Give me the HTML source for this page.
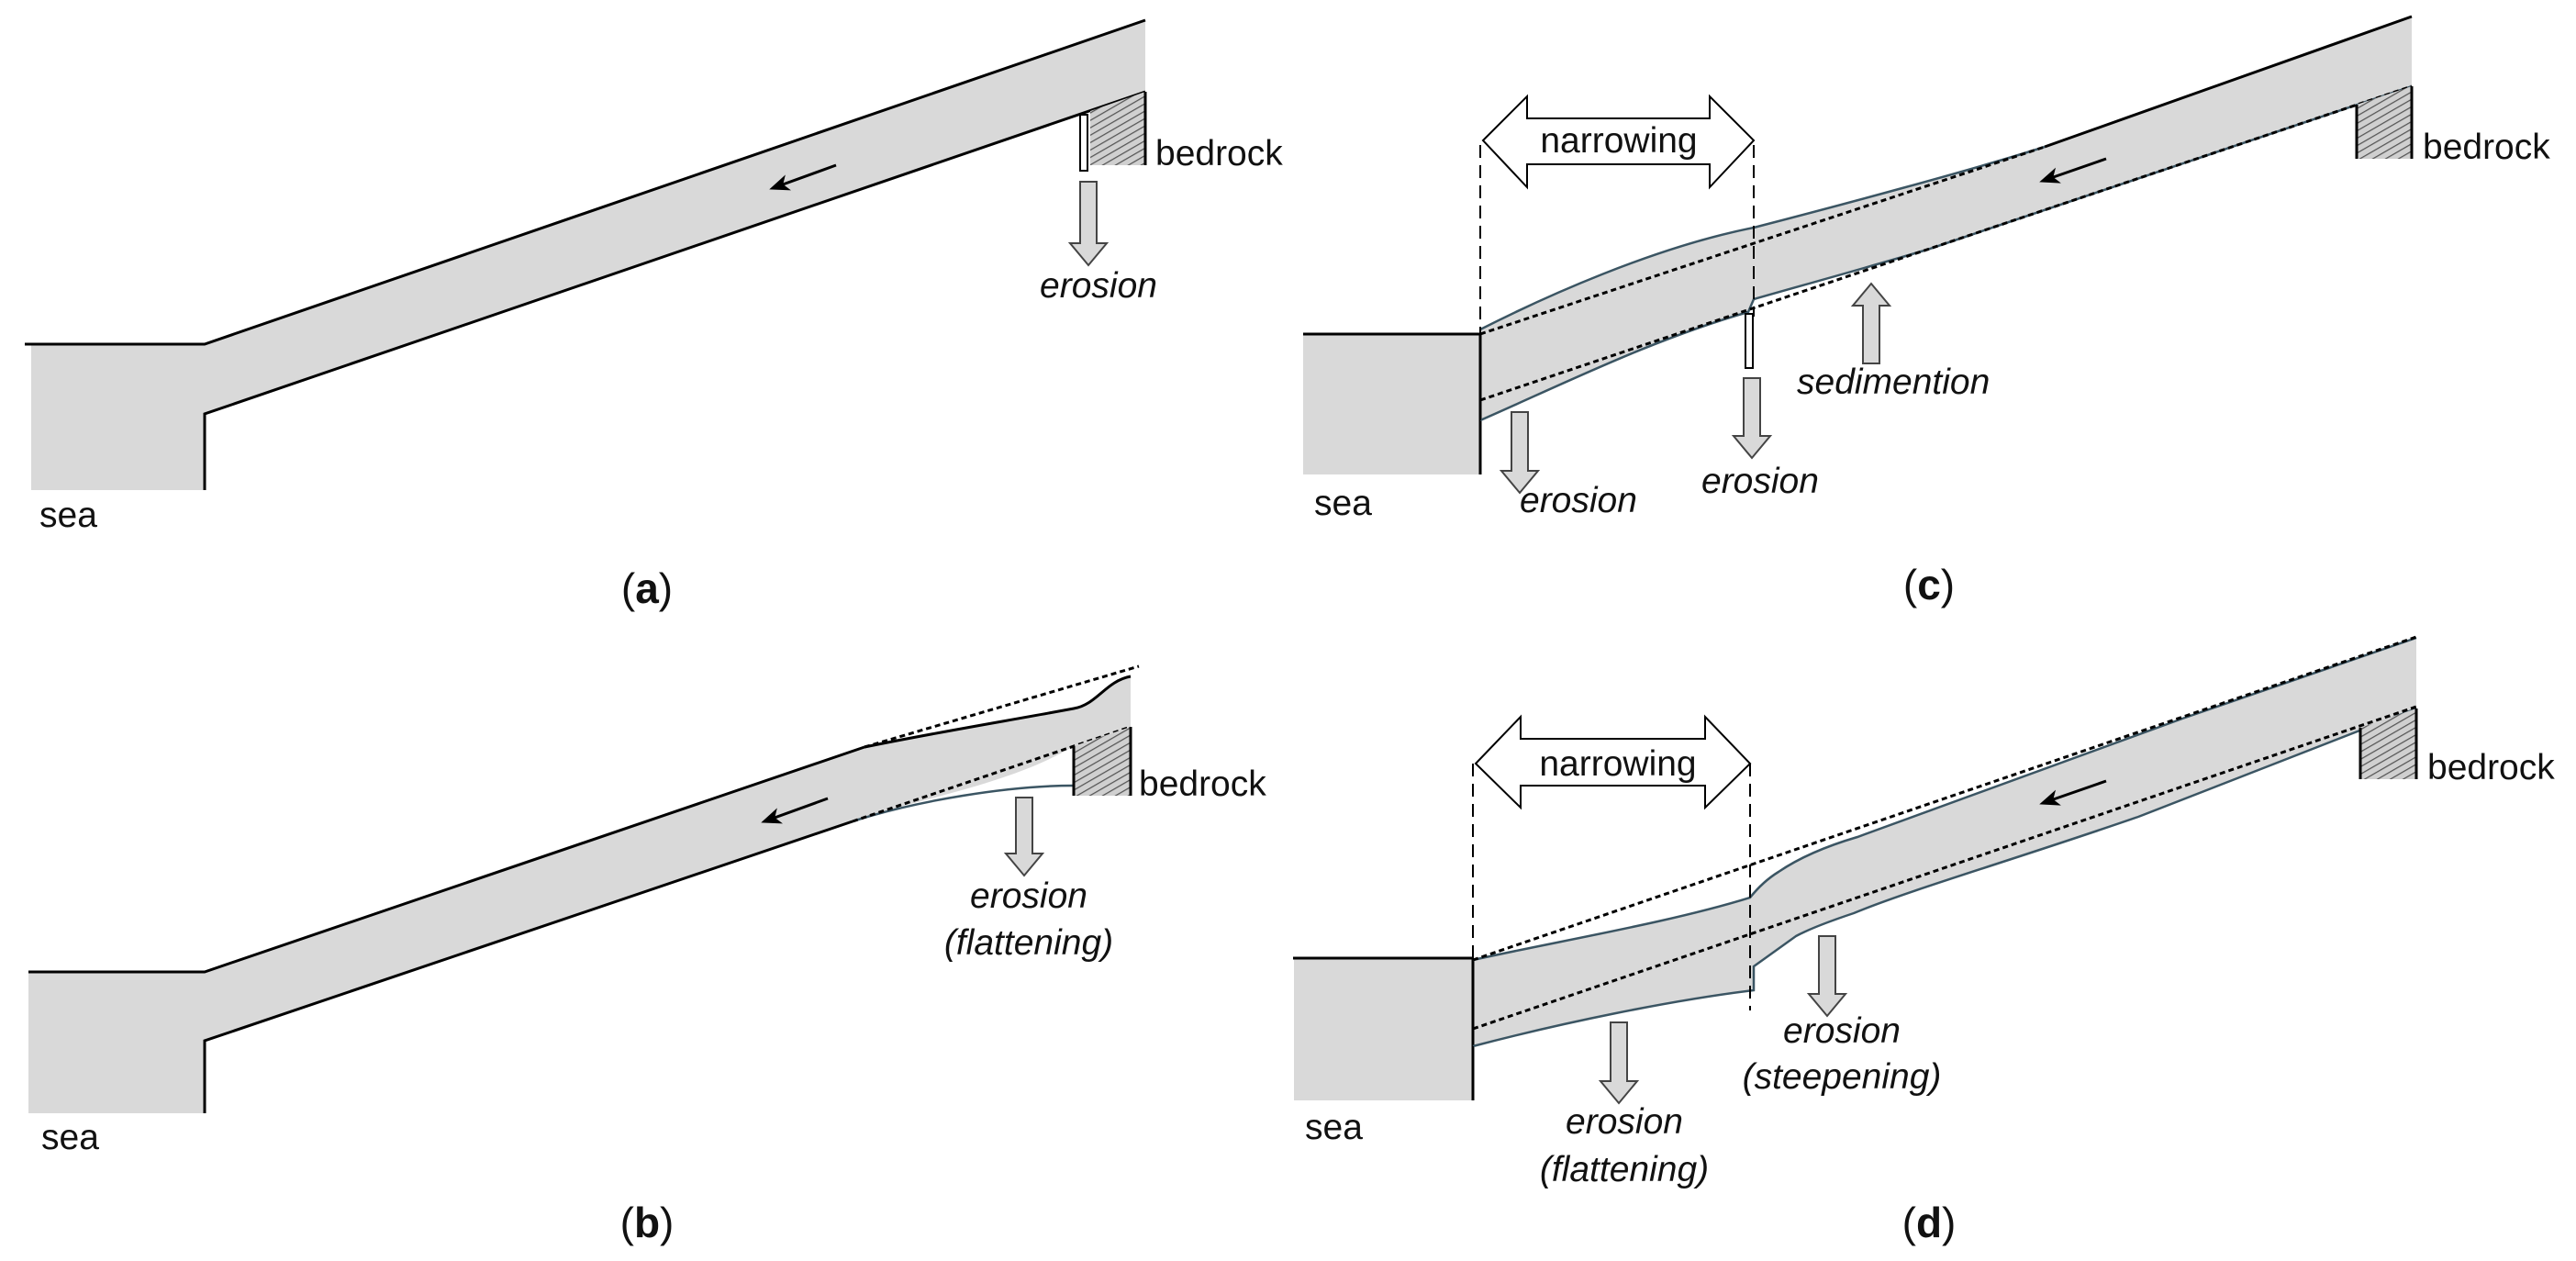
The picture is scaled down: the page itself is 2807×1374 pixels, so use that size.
<!DOCTYPE html>
<html><head><meta charset="utf-8"><style>
html,body{margin:0;padding:0;background:#fff;}
svg{display:block;}
text{font-family:"Liberation Sans",sans-serif;font-size:39px;fill:#111;}
.it{font-style:italic;}
.lb{font-size:46px;}
</style></head><body>
<svg width="2807" height="1374" viewBox="0 0 2807 1374" xmlns="http://www.w3.org/2000/svg">
<defs>
<pattern id="h" width="7" height="7" patternUnits="userSpaceOnUse" patternTransform="rotate(60)">
<rect width="7" height="7" fill="#d0d0d0"/><line x1="0" y1="0" x2="0" y2="7" stroke="#555" stroke-width="2.5"/>
</pattern>
<marker id="ah" markerWidth="22" markerHeight="18" refX="18" refY="9" orient="auto" markerUnits="userSpaceOnUse" viewBox="0 0 22 18">
<path d="M0,0 L22,9 L0,18 L6,9 Z" fill="#000"/>
</marker>
</defs>
<g stroke-linejoin="miter">

<!-- PANEL A -->
<polygon points="34,375 223,375 1248,22 1248,100 223,451 223,534 34,534" fill="#d9d9d9"/>
<polyline points="27,375 223,375 1248,22" fill="none" stroke="#000" stroke-width="3"/>
<polyline points="223,534 223,451 1248,100" fill="none" stroke="#000" stroke-width="3"/>
<polygon points="1188,121 1248,100 1248,180 1188,180" fill="url(#h)"/>
<line x1="1248" y1="100" x2="1248" y2="180" stroke="#000" stroke-width="3"/>
<rect x="1177" y="125" width="8" height="61" fill="#fff" stroke="#000" stroke-width="2"/>
<path d="M1177,198 L1195,198 L1195,265 L1206,265 L1186,289 L1166,265 L1177,265 Z" fill="#d9d9d9" stroke="#444" stroke-width="2"/>
<line x1="911" y1="180" x2="842" y2="205" stroke="#000" stroke-width="3" marker-end="url(#ah)"/>
<text x="1197" y="324" class="it" text-anchor="middle">erosion</text>
<text x="1259" y="180">bedrock</text>
<text x="43" y="574">sea</text>
<text x="705" y="657" class="lb" text-anchor="middle">(<tspan font-weight="bold">a</tspan>)</text>

<!-- PANEL B -->
<path d="M31,1059 L223,1059 L942,814 C1020,798 1100,785 1170,772 C1195,768 1205,742 1232,737 L1232,792 L1170,813 C1100,855 1000,870 929,895 L223,1134 L223,1213 L31,1213 Z" fill="#d9d9d9"/>
<polyline points="31,1059 223,1059 942,814" fill="none" stroke="#000" stroke-width="3"/>
<path d="M942,814 C1020,798 1100,785 1170,772 C1195,768 1205,742 1232,737" fill="none" stroke="#000" stroke-width="3"/>
<polyline points="223,1213 223,1134 929,895" fill="none" stroke="#000" stroke-width="3"/>
<path d="M929,895 C1000,872 1100,856 1170,856" fill="none" stroke="#3b5563" stroke-width="2.5"/>
<line x1="942" y1="814" x2="1241" y2="726" stroke="#000" stroke-width="3" stroke-dasharray="6,4"/>
<line x1="929" y1="895" x2="1232" y2="792" stroke="#000" stroke-width="3" stroke-dasharray="6,4"/>
<polygon points="1170,813 1232,792 1232,867 1170,867" fill="url(#h)"/>
<line x1="1170" y1="813" x2="1170" y2="867" stroke="#000" stroke-width="3"/>
<line x1="1232" y1="792" x2="1232" y2="867" stroke="#000" stroke-width="3"/>
<path d="M1107,869 L1125,869 L1125,930 L1136,930 L1116,954 L1096,930 L1107,930 Z" fill="#d9d9d9" stroke="#444" stroke-width="2"/>
<line x1="902" y1="870" x2="833" y2="895" stroke="#000" stroke-width="3" marker-end="url(#ah)"/>
<text x="1121" y="989" class="it" text-anchor="middle">erosion</text>
<text x="1121" y="1040" class="it" text-anchor="middle">(flattening)</text>
<text x="1241" y="867">bedrock</text>
<text x="45" y="1252">sea</text>
<text x="705" y="1348" class="lb" text-anchor="middle">(<tspan font-weight="bold">b</tspan>)</text>

<!-- PANEL C -->
<path d="M1420,364 L1613,364 L1613,359 C1680,325 1800,270 1911,248 C2000,225 2150,185 2228,160 L2628,18 L2628,94 L2100,272 C2040,290 1960,312 1911,326 L1905,340 C1800,370 1700,420 1613,458 L1613,517 L1420,517 Z" fill="#d9d9d9"/>
<line x1="1420" y1="364" x2="1613" y2="364" stroke="#000" stroke-width="3"/>
<line x1="1613" y1="364" x2="1613" y2="517" stroke="#000" stroke-width="3"/>
<line x1="2228" y1="160" x2="2628" y2="18" stroke="#000" stroke-width="3"/>
<path d="M1613,359 C1680,325 1800,270 1911,248 C2000,225 2150,185 2228,160" fill="none" stroke="#3b5563" stroke-width="2.5"/>
<path d="M1613,458 C1700,420 1800,370 1905,340 L1911,326 C1960,312 2040,290 2100,272 L2628,94" fill="none" stroke="#3b5563" stroke-width="2.5"/>
<line x1="1613" y1="364" x2="2228" y2="160" stroke="#000" stroke-width="3" stroke-dasharray="6,4"/>
<line x1="1613" y1="436" x2="2628" y2="94" stroke="#000" stroke-width="3" stroke-dasharray="6,4"/>
<line x1="1613" y1="158" x2="1613" y2="517" stroke="#000" stroke-width="2" stroke-dasharray="14,8"/>
<line x1="1911" y1="158" x2="1911" y2="345" stroke="#000" stroke-width="2" stroke-dasharray="14,8"/>
<polygon points="1616,153 1664,105 1664,129 1863,129 1863,105 1911,153 1863,204 1863,179 1664,179 1664,204" fill="#fff" stroke="#000" stroke-width="2"/>
<text x="1764" y="166" text-anchor="middle">narrowing</text>
<polygon points="2568,114 2628,94 2628,173 2568,173" fill="url(#h)"/>
<line x1="2568" y1="114" x2="2568" y2="173" stroke="#000" stroke-width="3"/>
<line x1="2628" y1="94" x2="2628" y2="173" stroke="#000" stroke-width="3"/>
<rect x="1902" y="342" width="8" height="59" fill="#fff" stroke="#000" stroke-width="2"/>
<path d="M1647,449 L1665,449 L1665,513 L1676,513 L1656,537 L1636,513 L1647,513 Z" fill="#d9d9d9" stroke="#444" stroke-width="2"/>
<path d="M1900,412 L1918,412 L1918,475 L1929,475 L1909,499 L1889,475 L1900,475 Z" fill="#d9d9d9" stroke="#444" stroke-width="2"/>
<path d="M2030,396 L2048,396 L2048,333 L2059,333 L2039,309 L2019,333 L2030,333 Z" fill="#d9d9d9" stroke="#444" stroke-width="2"/>
<line x1="2295" y1="173" x2="2226" y2="197" stroke="#000" stroke-width="3" marker-end="url(#ah)"/>
<text x="1656" y="558" class="it">erosion</text>
<text x="1854" y="537" class="it">erosion</text>
<text x="1958" y="429" class="it">sedimention</text>
<text x="1432" y="561">sea</text>
<text x="2640" y="173">bedrock</text>
<text x="2102" y="653" class="lb" text-anchor="middle">(<tspan font-weight="bold">c</tspan>)</text>

<!-- PANEL D -->
<path d="M1410,1044 L1605,1044 L1605,1046 C1700,1025 1820,1005 1907,978 C1915,968 1925,958 1938,950 C1960,935 1990,922 2024,912 L2378,783 L2633,695 L2633,772 L2330,890 C2200,935 2080,970 2020,995 C1990,1005 1970,1013 1957,1020 L1911,1053 L1911,1079 C1820,1090 1700,1115 1605,1140 L1605,1199 L1410,1199 Z" fill="#d9d9d9"/>
<line x1="1409" y1="1044" x2="1605" y2="1044" stroke="#000" stroke-width="3"/>
<line x1="1605" y1="1044" x2="1605" y2="1199" stroke="#000" stroke-width="3"/>
<path d="M1605,1046 C1700,1025 1820,1005 1907,978 C1915,968 1925,958 1938,950 C1960,935 1990,922 2024,912 L2378,783 L2633,695" fill="none" stroke="#3b5563" stroke-width="2.5"/>
<path d="M1605,1140 C1700,1115 1820,1090 1911,1079 L1911,1053 L1957,1020 C1970,1013 1990,1005 2020,995 C2080,970 2200,935 2330,890 L2633,772" fill="none" stroke="#3b5563" stroke-width="2.5"/>
<line x1="1605" y1="1046" x2="2633" y2="694" stroke="#000" stroke-width="3" stroke-dasharray="6,4"/>
<line x1="1605" y1="1121" x2="2633" y2="770" stroke="#000" stroke-width="3" stroke-dasharray="6,4"/>
<line x1="1605" y1="832" x2="1605" y2="1199" stroke="#000" stroke-width="2" stroke-dasharray="14,8"/>
<line x1="1907" y1="832" x2="1907" y2="1101" stroke="#000" stroke-width="2" stroke-dasharray="14,8"/>
<polygon points="1608,832 1657,781 1657,805 1858,805 1858,781 1907,832 1858,880 1858,856 1657,856 1657,880" fill="#fff" stroke="#000" stroke-width="2"/>
<text x="1763" y="845" text-anchor="middle">narrowing</text>
<polygon points="2572,793 2633,772 2633,849 2572,849" fill="url(#h)"/>
<line x1="2572" y1="793" x2="2572" y2="849" stroke="#000" stroke-width="3"/>
<line x1="2633" y1="772" x2="2633" y2="849" stroke="#000" stroke-width="3"/>
<path d="M1755,1114 L1773,1114 L1773,1178 L1784,1178 L1764,1202 L1744,1178 L1755,1178 Z" fill="#d9d9d9" stroke="#444" stroke-width="2"/>
<path d="M1982,1020 L2000,1020 L2000,1083 L2011,1083 L1991,1107 L1971,1083 L1982,1083 Z" fill="#d9d9d9" stroke="#444" stroke-width="2"/>
<line x1="2295" y1="851" x2="2226" y2="875" stroke="#000" stroke-width="3" marker-end="url(#ah)"/>
<text x="1770" y="1235" class="it" text-anchor="middle">erosion</text>
<text x="1770" y="1287" class="it" text-anchor="middle">(flattening)</text>
<text x="2007" y="1136" class="it" text-anchor="middle">erosion</text>
<text x="2007" y="1186" class="it" text-anchor="middle">(steepening)</text>
<text x="1422" y="1241">sea</text>
<text x="2645" y="849">bedrock</text>
<text x="2102" y="1348" class="lb" text-anchor="middle">(<tspan font-weight="bold">d</tspan>)</text>
</g>
</svg>
</body></html>
